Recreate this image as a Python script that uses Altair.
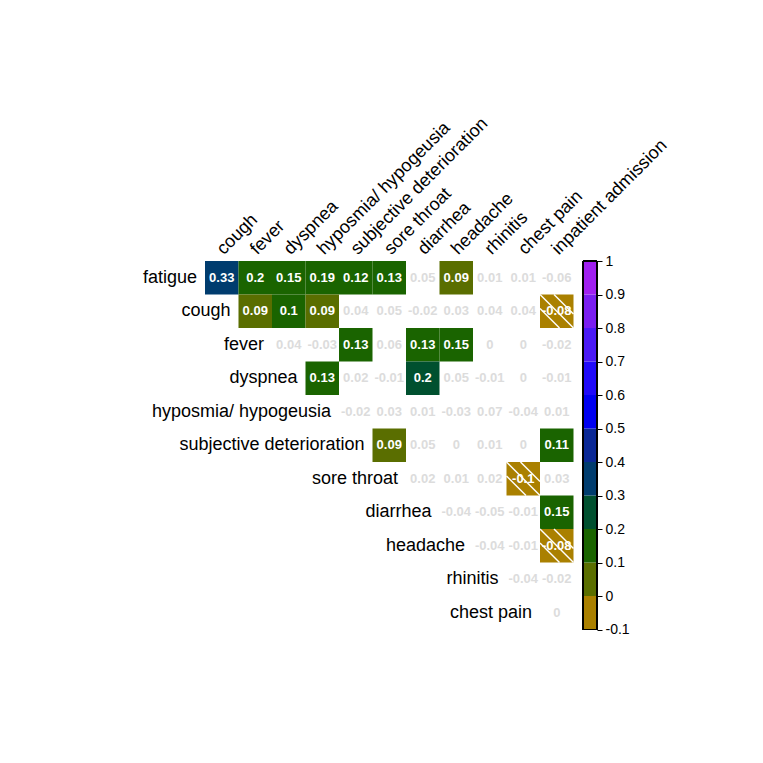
import altair as alt
import pandas as pd

FONT = "Liberation Sans, Arial, sans-serif"

cols = ["cough", "fever", "dyspnea", "hyposmia/ hypogeusia", "subjective deterioration",
        "sore throat", "diarrhea", "headache", "rhinitis", "chest pain", "inpatient admission"]
rows = ["fatigue", "cough", "fever", "dyspnea", "hyposmia/ hypogeusia", "subjective deterioration",
        "sore throat", "diarrhea", "headache", "rhinitis", "chest pain"]

# row i holds the values for columns i .. end
vals = [
    [0.33, 0.196, 0.15, 0.19, 0.12, 0.13, 0.05, 0.09, 0.01, 0.01, -0.06],
    [0.09, 0.1, 0.09, 0.04, 0.05, -0.02, 0.03, 0.04, 0.04, -0.08],
    [0.04, -0.03, 0.13, 0.06, 0.13, 0.15, 0, 0, -0.02],
    [0.13, 0.02, -0.01, 0.204, 0.05, -0.01, 0, -0.01],
    [-0.02, 0.03, 0.01, -0.03, 0.07, -0.04, 0.01],
    [0.09, 0.05, 0, 0.01, 0, 0.11],
    [0.02, 0.01, 0.02, -0.1, 0.03],
    [-0.04, -0.05, -0.01, 0.15],
    [-0.04, -0.01, -0.08],
    [-0.04, -0.02],
    [0],
]
sig = [
    [1, 1, 1, 1, 1, 1, 0, 1, 0, 0, 0],
    [1, 1, 1, 0, 0, 0, 0, 0, 0, 1],
    [0, 0, 1, 0, 1, 1, 0, 0, 0],
    [1, 0, 0, 1, 0, 0, 0, 0],
    [0, 0, 0, 0, 0, 0, 0],
    [1, 0, 0, 0, 0, 1],
    [0, 0, 0, 1, 0],
    [0, 0, 0, 1],
    [0, 0, 1],
    [0, 0],
    [0],
]

bin_edges = [-0.1, 0, 0.1, 0.2, 0.3, 0.4, 0.5, 0.6, 0.7, 0.8, 0.9, 1]
bin_colors = ["#AA8000", "#5A6E00", "#1A6400", "#00502F", "#003C6E", "#0A2896",
              "#0000F0", "#200AF8", "#4A1AF5", "#7A1EF0", "#A020F0"]
tick_values = [-0.1, 0, 0.1, 0.2, 0.3, 0.4, 0.5, 0.6, 0.7, 0.8, 0.9, 1]

recs = []
for i, r in enumerate(rows):
    for k, v in enumerate(vals[i]):
        recs.append({"row": r, "col": cols[i + k], "value": v, "sig": sig[i][k]})
cells = pd.DataFrame(recs)
sig_cells = cells[cells["sig"] == 1]
hatch_cells = cells[(cells["sig"] == 1) & (cells["value"] < 0)]
labels = pd.DataFrame({"row": rows, "col": cols[:len(rows)]})

cscale = alt.Scale(type="threshold", domain=bin_edges[1:-1], range=bin_colors)

STEP = 33.5
W = STEP * len(cols)
H = STEP * len(rows)

xaxis = alt.Axis(orient="top", title=None, labelAngle=-45, labelAlign="left",
                 labelBaseline="alphabetic", domain=False, ticks=False, labelPadding=6,
                 labelFontSize=18, labelFont=FONT, labelColor="black", labelLimit=0,
                 labelOffset=2)
xscale = alt.Scale(domain=cols, paddingInner=0, paddingOuter=0)
yscale = alt.Scale(domain=rows, paddingInner=0, paddingOuter=0)


def X(**kw):
    return alt.X("col:N", scale=xscale, axis=xaxis, **kw)


def Y(**kw):
    return alt.Y("row:N", scale=yscale, axis=None, **kw)


rects = alt.Chart(sig_cells).mark_rect().encode(
    x=X(), y=Y(),
    color=alt.Color("value:Q", scale=cscale, legend=None),
)

s = STEP / 2
d = 14
hatch_layers = []
for (x0, y0, x1, y1) in [(-s, -s, s, s), (-s + d, -s, s, s - d), (-s, -s + d, s - d, s)]:
    hatch_layers.append(
        alt.Chart(hatch_cells).mark_rule(color="white", strokeWidth=1.5,
                                         xOffset=x0, yOffset=y0, x2Offset=x1, y2Offset=y1).encode(
            x=X(), x2=alt.X2("col:N"), y=Y(), y2=alt.Y2("row:N")
        )
    )

texts = alt.Chart(cells).mark_text(font=FONT, fontSize=13, fontWeight="bold").transform_calculate(
    txt="replace(format(datum.value, '.2~f'), '\u2212', '-')"
).encode(
    x=X(), y=Y(),
    text="txt:N",
    color=alt.condition(alt.datum.sig == 1, alt.value("white"), alt.value("#DCDCDC")),
)

row_labels = alt.Chart(labels).mark_text(font=FONT, fontSize=18, align="right",
                                         baseline="middle", dx=-8, color="black").encode(
    x=X(bandPosition=0), y=Y(), text="row:N"
)

heat = alt.layer(rects, *hatch_layers, texts, row_labels).properties(width=W, height=H)

bins = pd.DataFrame({"lo": bin_edges[:-1], "hi": bin_edges[1:]})
bins["mid"] = (bins["lo"] + bins["hi"]) / 2

ybar = alt.Scale(domain=[bin_edges[0], bin_edges[-1]], nice=False, zero=False)
bar_rects = alt.Chart(bins).mark_rect().encode(
    y=alt.Y("lo:Q", scale=ybar,
            axis=alt.Axis(orient="right", values=tick_values, tickCount=len(tick_values),
                          title=None, grid=False,
                          labelExpr="replace(format(datum.value, '.1~f'), '\u2212', '-')",
                          labelOverlap=False, labelFlush=False,
                          domainColor="black", tickColor="black", tickSize=5,
                          labelFontSize=14, labelFont=FONT, labelColor="black", labelPadding=3)),
    y2="hi:Q",
    color=alt.Color("mid:Q", scale=cscale, legend=None),
)
outline = alt.Chart(bins).mark_rect(fill="transparent", stroke="black", strokeWidth=1).encode(
    y=alt.datum(bin_edges[0]), y2=alt.datum(bin_edges[-1])
)
colorbar = alt.layer(bar_rects, outline).properties(width=14, height=H)

chart = alt.hconcat(heat, colorbar, spacing=9, bounds="flush").properties(
    padding={"left": 134, "top": 106, "right": 5, "bottom": 5}
).configure_view(stroke=None)

chart.save("out.html", embed_options={"renderer": "svg", "actions": False})
